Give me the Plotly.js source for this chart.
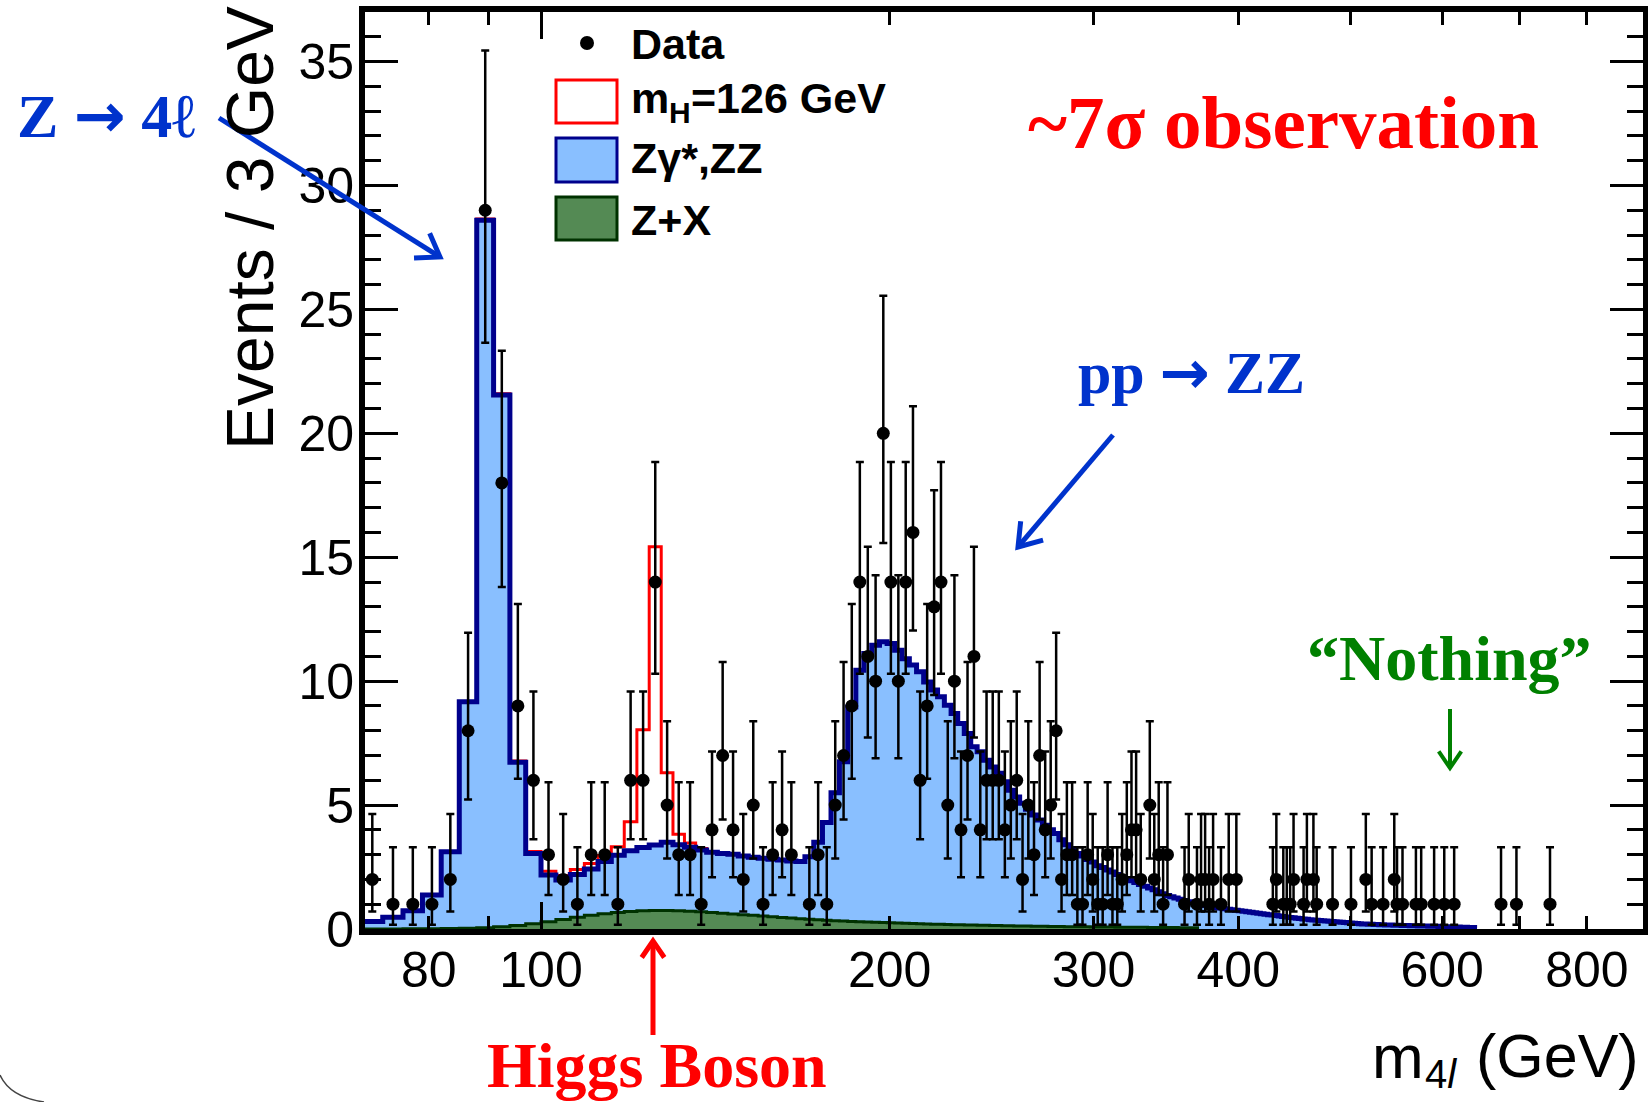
<!DOCTYPE html>
<html><head><meta charset="utf-8">
<script src="https://cdn.plot.ly/plotly-3.0.1.min.js"></script>
<style>html,body{margin:0;padding:0;background:#fff;} #chart{width:1648px;height:1102px;}</style>
</head><body><div id="chart"></div>
<script>
// ---------------- DATA ----------------
const binStart = 70;   // GeV, lower edge of first histogram bin
const binWidth = 3;    // GeV per bin

// Stack top: Zγ*,ZZ + Z+X, per 3 GeV bin starting at 70 GeV
const bkgTotal = [
 0.30,0.47,0.74,1.37,3.12,9.17,28.6,21.55,6.73,3.05,
 2.18,1.98,2.20,2.42,2.72,2.98,3.16,3.29,3.39,3.50,
 3.40,3.30,3.19,3.10,3.05,3.02,2.95,2.90,2.85,2.81,
 2.78,2.74,2.72,2.92,3.50,4.30,5.50,6.75,8.96,10.44,
 11.12,11.45,11.59,11.52,11.25,10.90,10.65,10.38,9.97,9.64,
 9.37,9.03,8.70,8.29,7.89,7.35,7.15,6.81,6.54,6.28,
 5.94,5.60,5.33,5.07,4.83,4.60,4.40,4.19,4.00,3.85,
 3.60,3.40,3.25,3.05,2.95,2.80,2.70,2.55,2.48,2.38,
 2.30,2.20,2.10,2.02,1.95,1.88,1.80,1.72,1.65,1.58,
 1.50,1.42,1.35,1.30,1.25,1.20,1.15,1.10,1.06,1.02,
 0.98,0.95,0.92,0.89,0.87,0.85,0.82,0.80,0.78,0.76,
 0.74,0.72,0.70,0.68,0.66,0.64,0.62,0.60,0.58,0.56,
 0.54,0.52,0.50,0.48,0.46,0.45,0.43,0.42,0.40,0.39,
 0.37,0.36,0.35,0.34,0.33,0.32,0.31,0.30,0.29,0.28,
 0.27,0.26,0.25,0.24,0.23,0.22,0.21,0.20,0.20,0.19,
 0.19,0.18,0.18,0.17,0.17,0.16,0.16,0.16,0.15,0.15,
 0.15,0.14,0.14,0.14,0.13,0.13,0.13,0.12,0.12,0.12,
 0.12,0.11,0.11,0.11,0.11,0.10,0.10,0.10,0.09,0.09,
 0.09,0.08,0.08,0.08,0.07,0.07,0.07,0.06,0.06,0.06,0.05
];

// Z+X reducible background per bin (same binning)
const zxBkg = [
 0.00,0.00,0.01,0.01,0.02,0.03,0.05,0.09,0.14,0.21,
 0.29,0.38,0.47,0.55,0.62,0.67,0.71,0.74,0.75,0.75,
 0.74,0.72,0.70,0.67,0.64,0.61,0.58,0.55,0.52,0.49,
 0.46,0.44,0.41,0.39,0.37,0.35,0.33,0.32,0.30,0.29,
 0.28,0.27,0.26,0.25,0.24,0.23,0.22,0.21,0.20,0.19,
 0.19,0.18,0.17,0.17,0.16,0.16,0.15,0.15,0.14,0.14,
 0.13,0.13,0.12,0.12,0.12,0.11,0.11,0.11,0.10,0.10,
 0.10,0.09,0.09,0.09,0.09,0.09,0.08,0.08,0.08,0.08,
 0.08,0.07,0.07,0.07,0.07,0.07,0.07,0.07,0.06,0.06,
 0.06,0.06,0.06,0.06,0.06,0.05,0.05,0.05,0.05,0.05
];

// mH = 126 GeV signal stacked on top of the background (first bins only)
const higgsSig = [
 0.00,0.00,0.00,0.00,0.00,0.00,0.05,0.05,0.05,0.08,
 0.15,0.18,0.20,0.22,0.25,0.34,1.17,4.75,12.03,2.80,
 0.42,0.17,0.06
];

// Observed events (bin centres, GeV) and counts
const dataMass = [
 71.5,74.5,77.5,80.5,83.5,86.5,89.5,92.5,95.5,98.5,
 101.5,104.5,107.5,110.5,113.5,116.5,119.5,122.5,125.5,128.5,
 131.5,134.5,137.5,140.5,143.5,146.5,149.5,152.5,155.5,158.5,
 161.5,164.5,
 170.5,173.5,176.5,179.5,182.5,185.5,188.5,191.5,194.5,197.5,
 200.5,203.5,206.5,209.5,212.5,215.5,218.5,221.5,224.5,227.5,
 230.5,233.5,236.5,239.5,242.5,245.5,248.5,251.5,254.5,257.5,
 260.5,263.5,266.5,269.5,272.5,275.5,278.5,281.5,284.5,287.5,
 290.5,293.5,296.5,299.5,302.5,305.5,308.5,311.5,314.5,317.5,
 320.5,323.5,326.5,329.5,
 335.5,338.5,341.5,344.5,347.5,
 359.5,362.5,368.5,371.5,374.5,377.5,380.5,386.5,392.5,398.5,
 428.5,431.5,437.5,440.5,443.5,446.5,455.5,458.5,464.5,467.5,
 482.5,500.5,515.5,521.5,533.5,545.5,548.5,554.5,569.5,575.5,
 590.5,602.5,614.5,674.5,695.5,743.5
];
const dataCount = [
 2,1,1,1,2,8,29,18,9,6,
 3,2,1,3,3,1,6,6,14,5,
 3,3,1,4,7,4,2,5,1,3,
 4,3,
 1,3,1,5,7,9,14,11,10,20,
 14,10,14,16,6,9,13,14,5,10,
 4,7,11,4,6,6,6,4,5,6,
 2,5,3,7,4,5,8,2,3,3,
 1,1,3,2,1,1,3,1,1,2,
 3,4,4,2,
 5,2,3,1,3,
 1,2,1,2,2,1,2,1,2,2,
 1,2,1,1,1,2,1,2,2,1,
 1,1,2,1,1,2,1,1,1,1,
 1,1,1,1,1,1
];

// 68% central Poisson (Garwood) intervals, looked up by observed count
const poissonLo = {1:0.17,2:0.71,3:1.37,4:2.09,5:2.84,6:3.62,7:4.42,8:5.23,9:6.06,10:6.89,
  11:7.73,13:9.44,14:10.30,16:12.04,18:13.80,20:15.57,29:23.65};
const poissonHi = {1:3.30,2:4.64,3:5.92,4:7.16,5:8.38,6:9.58,7:10.77,8:11.95,9:13.11,10:14.27,
  11:15.42,13:17.70,14:18.84,16:21.09,18:23.33,20:25.55,29:35.45};

// axis ticks
const xLabelTicks = [80,100,200,300,400,600,800];
const xPlainTicks = [90,500,700];
const xLongTicks = [100];

// ---------------- BUILD ----------------
function stepXY(vals){
  const xs=[], ys=[];
  for(let i=0;i<vals.length;i++){ xs.push(binStart+i*binWidth); ys.push(vals[i]); }
  xs.push(binStart+vals.length*binWidth); ys.push(vals[vals.length-1]);
  return {xs, ys};
}
const sigTotal = bkgTotal.map((v,i)=> v + (higgsSig[i]||0));
const red = stepXY(sigTotal), blue = stepXY(bkgTotal), green = stepXY(zxBkg);

const BLUE_FILL='rgb(137,191,255)', BLUE_LINE='rgb(0,0,140)';
const GREEN_FILL='rgb(84,138,84)', GREEN_LINE='rgb(0,50,0)';
const RED='rgb(255,0,0)';

const traces = [
  {x:red.xs, y:red.ys, type:'scatter', mode:'lines', line:{shape:'hv', color:RED, width:3}, hoverinfo:'skip', showlegend:false},
  {x:blue.xs, y:blue.ys, type:'scatter', mode:'lines', fill:'tozeroy', fillcolor:BLUE_FILL, line:{shape:'hv', color:BLUE_LINE, width:5}, showlegend:false},
  {x:green.xs, y:green.ys, type:'scatter', mode:'lines', fill:'tozeroy', fillcolor:GREEN_FILL, line:{shape:'hv', color:GREEN_LINE, width:3}, showlegend:false},
  {x:dataMass, y:dataCount, type:'scatter', mode:'markers', marker:{color:'black', size:13},
   error_y:{type:'data', symmetric:false,
     array:dataCount.map(n=>poissonHi[n]-n), arrayminus:dataCount.map(n=>n-poissonLo[n]),
     color:'black', thickness:2.5, width:4}, showlegend:false},
  {x:[], y:[], xaxis:'x2', yaxis:'y', type:'scatter', showlegend:false},
  {x:[], y:[], xaxis:'x3', yaxis:'y', type:'scatter', showlegend:false}
];

// pixel -> paper helpers for decorations
const L=365, R=1643, T=12, B=929;
const px = x => (x-L)/(R-L);
const py = y => (B-y)/(B-T);

const xr = [Math.log10(70.47), Math.log10(894.5)];

const SERIF = 'Liberation Serif, DejaVu Serif, serif';
const SANS = 'Liberation Sans, Arial, sans-serif';
const TXTBLUE = 'rgb(0,51,204)', TXTGREEN='rgb(0,128,0)';
const ARR = '<span style="font-family:DejaVu Sans">→</span>';

function txt(x, y, text, size, opts){
  return Object.assign({xref:'paper', yref:'paper', x:px(x), y:py(y), text, showarrow:false,
    xanchor:'left', yanchor:'middle', font:{family:SANS, size, color:'black'}}, opts||{});
}

const annotations = [
  // axis titles
  txt(250, 228, 'Events / 3 GeV', 66, {textangle:-90, xanchor:'center'}),
  txt(1370, 1056, 'm', 62),
  txt(1423, 1074, '4<i>l</i>', 40),
  txt(1474, 1056, '(GeV)', 61),
  // legend text
  txt(629, 44, '<b>Data</b>', 43),
  txt(629, 98, '<b>m</b>', 43),
  txt(667, 112, '<b>H</b>', 30),
  txt(689, 98, '<b>=126 GeV</b>', 43),
  txt(629, 158, '<b>Zγ*,ZZ</b>', 43),
  txt(629, 220, '<b>Z+X</b>', 43),
  // slide annotations
  txt(1283, 122, '<b>~7σ observation</b>', 75, {xanchor:'center', font:{family:SERIF, size:75, color:RED}}),
  txt(15, 116, '<b>Z '+ARR+' 4<span style="font-family:DejaVu Serif">ℓ</span></b>', 62, {font:{family:SERIF, size:62, color:TXTBLUE}}),
  txt(1191, 372, '<b>pp '+ARR+' ZZ</b>', 60, {xanchor:'center', font:{family:SERIF, size:60, color:TXTBLUE}}),
  txt(657, 1065, '<b>Higgs Boson</b>', 64, {xanchor:'center', font:{family:SERIF, size:64, color:RED}}),
  txt(1449, 658, '<b>“Nothing”</b>', 64, {xanchor:'center', font:{family:SERIF, size:64, color:TXTGREEN}})
];

// arrows drawn as a shaft plus an open chevron head (pixel coords -> paper)
function arrowShapes(x0,y0,x1,y1,color,w,head){
  const dx=x1-x0, dy=y1-y0, len=Math.hypot(dx,dy), ux=dx/len, uy=dy/len;
  const ang=0.6, bx=-ux, by=-uy;
  const a={x:x1+head*(bx*Math.cos(ang)-by*Math.sin(ang)), y:y1+head*(bx*Math.sin(ang)+by*Math.cos(ang))};
  const b={x:x1+head*(bx*Math.cos(-ang)-by*Math.sin(-ang)), y:y1+head*(bx*Math.sin(-ang)+by*Math.cos(-ang))};
  return [
    {type:'line', xref:'paper', yref:'paper', x0:px(x0), y0:py(y0), x1:px(x1-ux*w*0.6), y1:py(y1-uy*w*0.6), line:{color, width:w}},
    {type:'path', xref:'paper', yref:'paper', path:`M ${px(a.x)},${py(a.y)} L ${px(x1)},${py(y1)} L ${px(b.x)},${py(b.y)}`, line:{color, width:w}}
  ];
}

const shapes = [
  {type:'circle', xref:'paper', yref:'paper', x0:px(580), x1:px(594), y0:py(50), y1:py(36), fillcolor:'black', line:{width:0}},
  {type:'rect', xref:'paper', yref:'paper', x0:px(556), x1:px(617), y0:py(123), y1:py(80), fillcolor:'white', line:{color:RED, width:3}},
  {type:'rect', xref:'paper', yref:'paper', x0:px(556), x1:px(617), y0:py(182), y1:py(138), fillcolor:BLUE_FILL, line:{color:BLUE_LINE, width:3}},
  {type:'rect', xref:'paper', yref:'paper', x0:px(556), x1:px(617), y0:py(240), y1:py(197), fillcolor:GREEN_FILL, line:{color:GREEN_LINE, width:3}},
  ...arrowShapes(219,118,440,257,TXTBLUE,5,26),
  ...arrowShapes(1113,435,1018,547,TXTBLUE,5,26),
  ...arrowShapes(653,1035,653,941,RED,5,20),
  ...arrowShapes(1450,709,1450,768,TXTGREEN,4,20),
  // faint slide-edge arc in the lower-left corner
  {type:'path', xref:'paper', yref:'paper', path:`M ${px(0)},${py(1075)} Q ${px(10)},${py(1097)} ${px(44)},${py(1102)}`, line:{color:'#444', width:1.5}}
];

const tickAxisBase = {type:'log', range:xr, overlaying:'x', anchor:'y', side:'bottom', showgrid:false, zeroline:false,
  showline:false, mirror:'ticks', ticks:'inside', tickwidth:3, tickcolor:'black', tickmode:'array', showticklabels:false};

const layout = {
  width:1648, height:1102,
  margin:{l:L, r:1648-R, t:T, b:1102-B, pad:0},
  paper_bgcolor:'white', plot_bgcolor:'white',
  font:{family:SANS, color:'black'},
  showlegend:false,
  xaxis:{type:'log', range:xr, showgrid:false, zeroline:false,
    showline:true, linecolor:'black', linewidth:6, mirror:'ticks',
    ticks:'inside', ticklen:13, tickwidth:3, tickcolor:'black',
    tickmode:'array', tickvals:xLabelTicks, ticktext:xLabelTicks.map(String),
    ticklabelstandoff:-8,
    tickfont:{family:SANS, size:50, color:'black'}},
  xaxis2:Object.assign({}, tickAxisBase, {tickvals:xPlainTicks, ticklen:13}),
  xaxis3:Object.assign({}, tickAxisBase, {tickvals:xLongTicks, ticklen:27}),
  yaxis:{range:[0,37], showgrid:false, zeroline:false,
    showline:true, linecolor:'black', linewidth:6, mirror:'ticks',
    ticks:'inside', ticklen:33, tickwidth:3, tickcolor:'black',
    tickmode:'linear', tick0:0, dtick:5,
    minor:{dtick:1, ticklen:16, tickwidth:3, tickcolor:'black', ticks:'inside'},
    ticklabelstandoff:-5,
    tickfont:{family:SANS, size:50, color:'black'}},
  annotations, shapes
};

Plotly.newPlot('chart', traces, layout, {displayModeBar:false, staticPlot:true});
</script>
</body></html>
